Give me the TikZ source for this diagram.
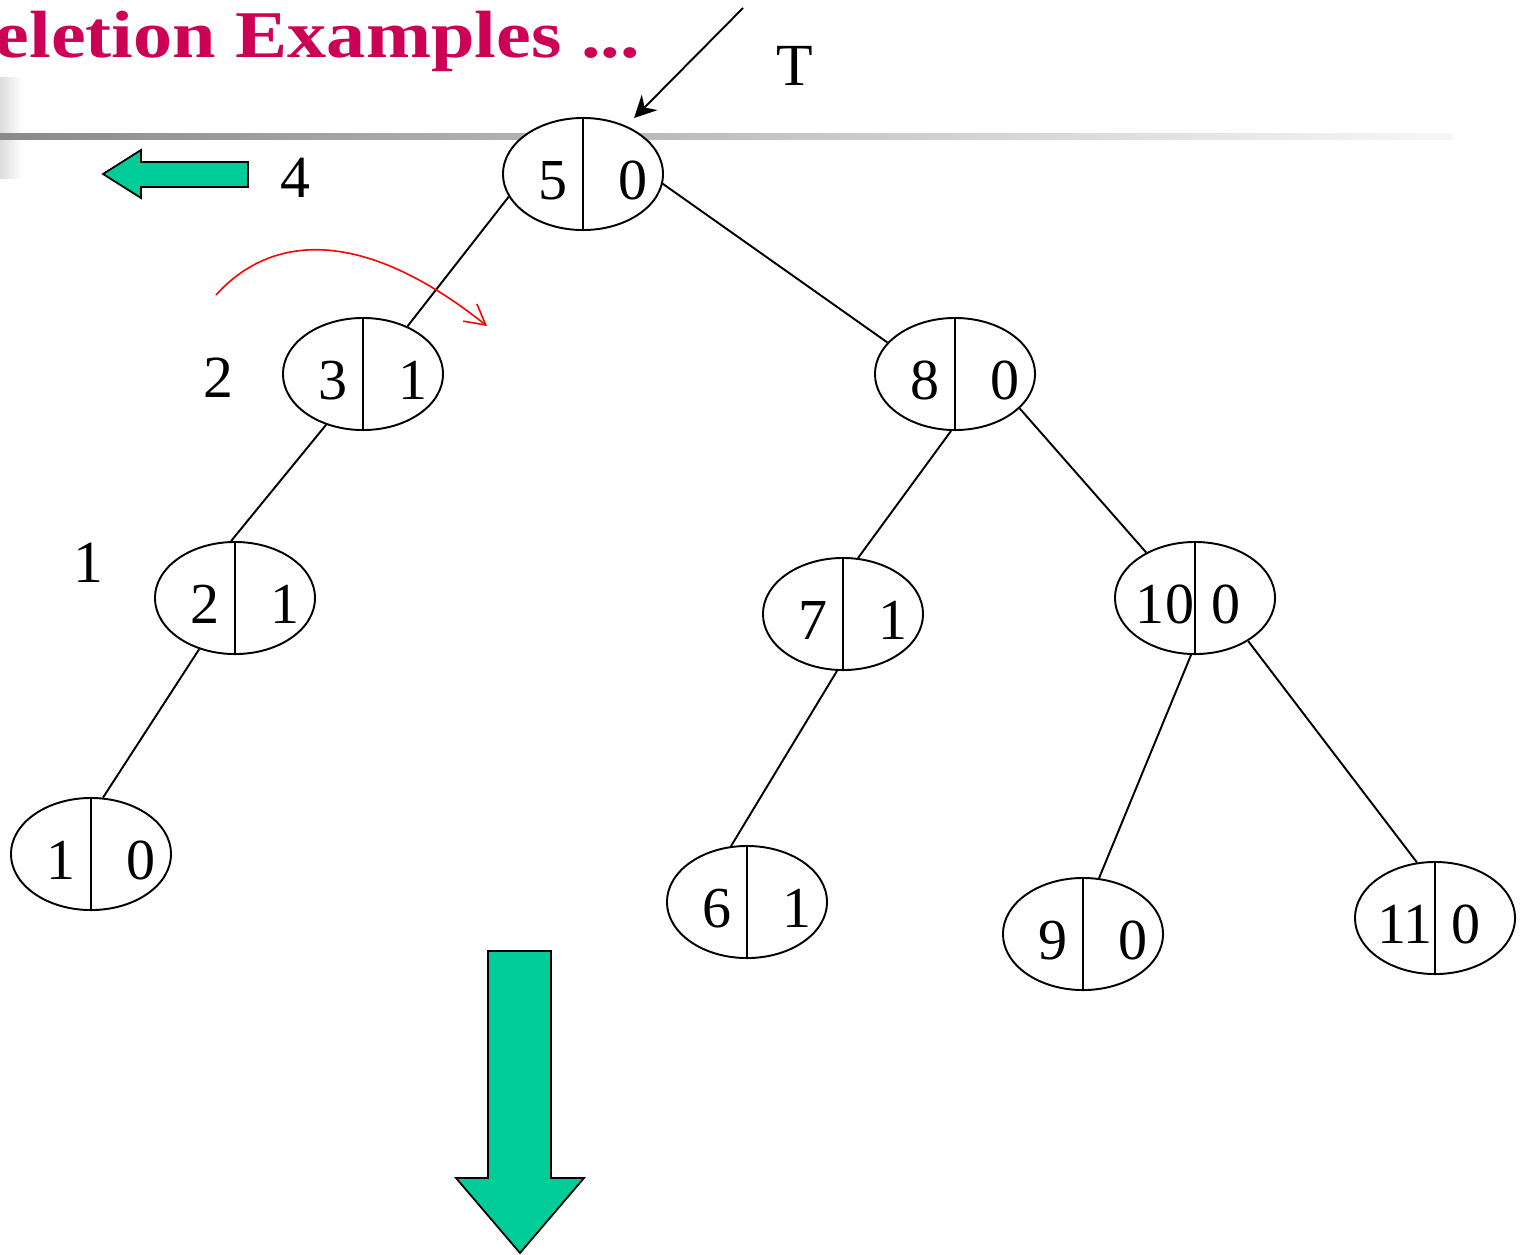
\documentclass[tikz,border=0pt]{standalone}
\usepackage{fontspec}
\setmainfont{Liberation Serif}
\newfontfamily\titlefont[FakeStretch=1.17]{Liberation Serif}
\usetikzlibrary{arrows.meta, calc, positioning, shapes}

\definecolor{slidered}{RGB}{204,0,85}
\definecolor{arrowgreen}{RGB}{0,204,153}
\definecolor{bargray}{RGB}{138,138,138}

\begin{document}
\begin{tikzpicture}[x=0.01cm, y=-0.01cm,
    num/.style={font=\fontsize{16.5}{18}\selectfont, inner sep=0pt},
    ldig/.style={num, xshift=-0.3cm, yshift=-0.065cm},
    rdig/.style={num, xshift=0.5cm, yshift=-0.065cm},
    rdigb/.style={num, xshift=0.31cm, yshift=-0.065cm},
    pair/.style={ellipse, draw, fill=white, line width=0.55pt, minimum width=1.6cm, minimum height=1.12cm, inner sep=0pt,
        path picture={\draw[line width=0.55pt] (path picture bounding box.north) -- (path picture bounding box.south);}},
    link/.style={line width=0.55pt},
    side/.style={font=\fontsize{17}{20}\selectfont, inner sep=0pt},
    block/.style={draw=black, fill=arrowgreen, line width=0.5pt, line join=miter}]

    \useasboundingbox (0,0) rectangle (1525,1254);

    % slide background
    \shade[left color=black!14, right color=white] (0,77) rectangle (22,178);
    \shade[left color=bargray, right color=black!3] (0,133) rectangle (1453,139);
    \node[anchor=base west, inner sep=0pt, text=slidered, font=\titlefont\fontsize{19}{22}\selectfont\bfseries] (title) at (-6,57) {eletion Examples ...};

    % tree
    \node[pair, label={[ldig]center:5}, label={[rdig]center:0}] (n5) at (583,174) {};
    \node[pair, label={[ldig]center:3}, label={[rdig]center:1}] (n3) at (363,374) {};
    \node[pair, label={[ldig]center:8}, label={[rdig]center:0}] (n8) at (955,374) {};
    \node[pair, label={[ldig]center:2}, label={[rdig]center:1}] (n2) at (235,598) {};
    \node[pair, label={[ldig]center:7}, label={[rdig]center:1}] (n7) at (843,614) {};
    \node[pair, label={[ldig]center:10}, label={[rdigb]center:0}] (n10) at (1195,598) {};
    \node[pair, label={[ldig]center:1}, label={[rdig]center:0}] (n1) at (91,854) {};
    \node[pair, label={[ldig]center:6}, label={[rdig]center:1}] (n6) at (747,902) {};
    \node[pair, label={[ldig]center:9}, label={[rdig]center:0}] (n9) at (1083,934) {};
    \node[pair, label={[ldig]center:11}, label={[rdigb]center:0}] (n11) at (1435,918) {};

    \draw[link] (n5.197) -- (n3.47);
    \draw[link] (n5.353) -- (n8.155);
    \draw[link] (n3.234) -- (n2.94);
    \draw[link] (n2.235) -- (n1.78);
    \draw[link] (n8.266) -- (n7.75);
    \draw[link] (n8.332) -- (n10.137);
    \draw[link] (n7.264) -- (n6.106);
    \draw[link] (n10.266) -- (n9.74);
    \draw[link] (n10.321) -- (n11.108);

    % side labels
    \node[side] (lblT) at (795,66) {T};
    \node[side] (lbl4) at (295,178) {4};
    \node[side] (lbl2) at (218,378) {2};
    \node[side] (lbl1) at (88,563) {1};

    \coordinate (tstart) at (743,8);
    \draw[link, -{Stealth[length=0.22cm, width=0.22cm]}, shorten >=0.11cm] (tstart) -- (n5.48);

    \coordinate (redS) at (216,295);
    \coordinate (redE) at (487,326);
    \draw[red, line width=0.45pt, -{Straight Barb[length=0.2cm, width=0.22cm]}] (redS) .. controls (270,235) and (360,225) .. (redE);

    % block arrows
    \draw[block] (248,162) -- (141,162) -- (141,150) -- (103,174) -- (141,198) -- (141,187) -- (248,187) -- cycle;
    \draw[block] (488,951) -- (551,951) -- (551,1178) -- (584,1178) -- (520,1253) -- (456,1178) -- (488,1178) -- cycle;
\end{tikzpicture}
\end{document}
